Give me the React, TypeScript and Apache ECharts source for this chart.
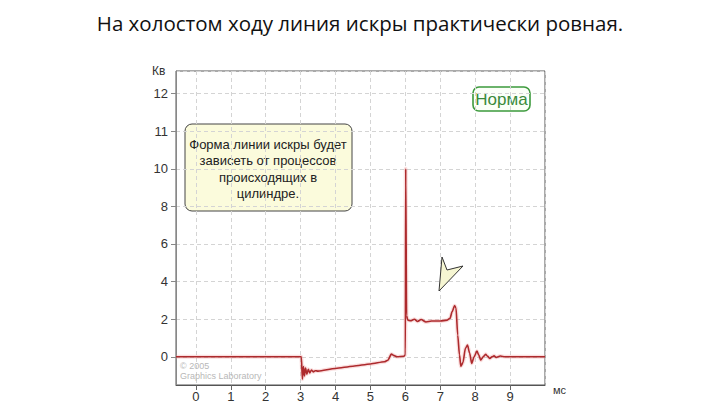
import React, { useEffect, useRef } from "react";
import * as echarts from "echarts";

// Spark voltage trace (time in ms, voltage in kV)
const timeMs = [
  -0.57, 3.02, 3.05, 3.08, 3.11, 3.14, 3.18, 3.22, 3.26, 3.31, 3.36, 3.42, 3.5,
  4.0, 4.5, 5.0, 5.4, 5.5, 5.6, 5.68, 5.76, 5.96, 6.0, 6.01, 6.035, 6.07, 6.15,
  6.26, 6.35, 6.45, 6.59, 6.75, 7.0, 7.2, 7.28, 7.34, 7.41, 7.45, 7.5, 7.55,
  7.59, 7.65, 7.72, 7.78, 7.84, 7.9, 7.97, 8.05, 8.1, 8.16, 8.23, 8.3, 8.36,
  8.42, 8.48, 8.54, 8.6, 8.72, 8.85, 10,
];
const voltageKv = [
  0, 0, -1.19, -0.52, -1.02, -0.6, -0.92, -0.66, -0.86, -0.7, -0.8, -0.74, -0.76,
  -0.62, -0.5, -0.38, -0.26, -0.18, 0.14, 0.06, 0.0, 0.03, 0.1, 10, 2.2, 1.95, 1.92,
  2.0, 1.88, 1.98, 1.85, 1.9, 1.9, 1.95, 2.05, 2.4, 2.72, 2.6, 1.15, 0.1,
  -0.5, -0.3, 0.45, 0.62, 0.2, -0.35, 0.0, 0.3, 0.1, -0.18, 0.0, 0.13, 0.02,
  -0.09, 0.0, 0.05, -0.03, 0.04, 0.0, 0,
];

// Y axis as printed on the original (non-linear above 10)
const yTickValues = [0, 2, 4, 6, 8, 10, 12, 14];
const yTickLabels = ["0", "2", "4", "6", "8", "10", "11", "12"];
const xTickLabels = ["0", "1", "2", "3", "4", "5", "6", "7", "8", "9"];

const titleText = "На холостом ходу линия искры практически ровная.";
const noteLines = [
  "Форма линии искры будет",
  "зависеть от процессов",
  "происходящих в",
  "цилиндре.",
];
const badgeText = "Норма";
const copyrightLines = ["© 2005", "Graphics Laboratory"];

export default function App() {
  const ref = useRef<HTMLDivElement>(null);
  useEffect(() => {
    if (!ref.current) return;
    const chart = echarts.init(ref.current, null, { renderer: "svg" });
    const points = timeMs.map((t, i) => [t, voltageKv[i]]);
    const axisFont = { fontFamily: "Liberation Sans", fontSize: 13, color: "#333" };
    chart.setOption({
      animation: false,
      backgroundColor: "#ffffff",
      grid: {
        left: 176,
        right: 175,
        top: 71,
        bottom: 20,
        show: true,
        borderColor: "#555",
        borderWidth: 1,
      },
      xAxis: {
        type: "value",
        min: -0.57,
        max: 10,
        splitNumber: 10,
        axisLine: { show: true, onZero: false, lineStyle: { color: "#555" } },
        axisTick: { show: true, length: 5, lineStyle: { color: "#666" } },
        axisLabel: {
          ...axisFont,
          margin: 5,
          showMinLabel: false,
          showMaxLabel: false,
          formatter: (v: number) => {
            const i = Math.round(v);
            return Math.abs(v - i) < 1e-6 && i >= 0 && i < xTickLabels.length
              ? xTickLabels[i]
              : "";
          },
        },
        splitLine: { show: true, lineStyle: { color: "#d4d4d4", type: [4, 3] } },
      },
      yAxis: {
        type: "value",
        min: -1.5,
        max: 15.2,
        splitNumber: 8,
        axisLine: { show: true, onZero: false, lineStyle: { color: "#888" } },
        axisTick: { show: true, length: 5, lineStyle: { color: "#888" } },
        axisLabel: {
          ...axisFont,
          margin: 8,
          showMinLabel: false,
          showMaxLabel: false,
          formatter: (v: number) => {
            const k = yTickValues.findIndex((t) => Math.abs(t - v) < 1e-6);
            return k >= 0 ? yTickLabels[k] : "";
          },
        },
        splitLine: { show: true, lineStyle: { color: "#d4d4d4", type: [4, 3] } },
      },
      series: [
        {
          type: "line",
          data: points,
          showSymbol: false,
          smooth: 0.25,
          smoothMonotone: "x",
          lineStyle: { color: "rgba(240,150,150,0.3)", width: 4 },
          z: 2,
          silent: true,
        },
        {
          type: "line",
          data: points,
          showSymbol: false,
          smooth: 0.25,
          smoothMonotone: "x",
          lineStyle: { color: "#ad2a2d", width: 1.6 },
          z: 3,
        },
      ],
      graphic: [
        {
          type: "text",
          left: "center",
          top: 12,
          style: {
            text: titleText,
            fontFamily: "Open Sans",
            fontSize: 20.5,
            fill: "#111",
          },
        },
        {
          type: "text",
          x: 152,
          y: 65,
          style: { text: "Кв", fontFamily: "Liberation Sans", fontSize: 12, fill: "#333" },
        },
        {
          type: "text",
          x: 553,
          y: 384,
          style: { text: "мс", fontFamily: "Liberation Sans", fontSize: 11, fill: "#333" },
        },
        {
          type: "group",
          z: 10,
          children: [
            {
              type: "rect",
              shape: { x: 185, y: 124, width: 167, height: 87, r: 7 },
              style: { fill: "#fbfbdc", stroke: "#444", lineWidth: 1 },
            },
            ...noteLines.map((line, i) => ({
              type: "text",
              x: 268,
              y: 144 + i * 16.5,
              style: {
                text: line,
                fontFamily: "Liberation Sans",
                fontSize: 13,
                fill: "#222",
                align: "center",
                verticalAlign: "middle",
              },
            })),
          ],
        },
        {
          type: "group",
          z: 10,
          children: [
            {
              type: "rect",
              shape: { x: 473, y: 87, width: 57, height: 24, r: 6 },
              style: { fill: "#fbfff8", stroke: "#3d9a3d", lineWidth: 1.6 },
            },
            {
              type: "text",
              x: 501.5,
              y: 99.5,
              style: {
                text: badgeText,
                fontFamily: "Liberation Sans",
                fontSize: 17,
                fill: "#3a8a3a",
                align: "center",
                verticalAlign: "middle",
              },
            },
          ],
        },
        {
          type: "polygon",
          z: 10,
          shape: {
            points: [
              [442, 257],
              [447, 270],
              [463, 266],
              [439, 291],
            ],
          },
          style: { fill: "#f6f6d2", stroke: "#333", lineWidth: 1 },
        },
        ...copyrightLines.map((line, i) => ({
          type: "text",
          x: 180,
          y: 361 + i * 10,
          z: 10,
          style: {
            text: line,
            fontFamily: "Liberation Sans",
            fontSize: 9,
            fill: "#b8b8b8",
          },
        })),
      ],
    });
    return () => chart.dispose();
  }, []);
  return (
    <div
      ref={ref}
      style={{ position: "absolute", left: 0, top: 0, width: 720, height: 405 }}
    />
  );
}
